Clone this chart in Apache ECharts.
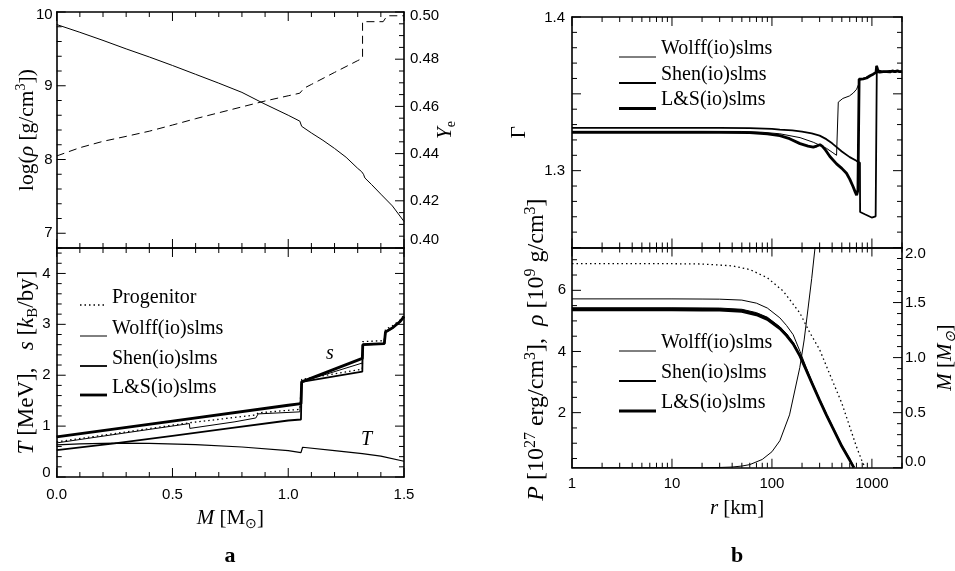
<!DOCTYPE html>
<html>
<head>
<meta charset="utf-8">
<title>Core profiles</title>
<script src="https://cdn.jsdelivr.net/npm/echarts@6.0.0/dist/echarts.min.js"></script>
<style>
  html, body { margin: 0; padding: 0; background: #fff; }
  #chart { width: 955px; height: 571px; }
</style>
</head>
<body>
<div id="chart"></div>
<script>
// ---------- panel a, upper: density (left axis) and electron fraction (right axis) vs. enclosed mass ----------
const massRho = [0, 0.1, 0.2, 0.3, 0.4, 0.5, 0.6, 0.7, 0.8, 0.878, 0.9, 1.0, 1.05, 1.058, 1.065, 1.1, 1.15, 1.2, 1.25, 1.3, 1.317, 1.325, 1.331, 1.36, 1.4, 1.45, 1.5];
const logRho  = [9.83, 9.725, 9.615, 9.50, 9.39, 9.275, 9.155, 9.035, 8.91, 8.785, 8.75, 8.60, 8.52, 8.45, 8.43, 8.36, 8.26, 8.15, 8.03, 7.88, 7.835, 7.80, 7.75, 7.66, 7.53, 7.37, 7.16];
const massYe  = [0, 0.1, 0.2, 0.3, 0.4, 0.5, 0.6, 0.7, 0.8, 0.9, 1.0, 1.05, 1.068, 1.1, 1.2, 1.3, 1.321, 1.321, 1.41, 1.427, 1.5];
const yeValues = [0.439, 0.4425, 0.4452, 0.4473, 0.4495, 0.4521, 0.4548, 0.4573, 0.4598, 0.4623, 0.4645, 0.4656, 0.4677, 0.4693, 0.4744, 0.4794, 0.4804, 0.4959, 0.4959, 0.4984, 0.4984];

// ---------- panel a, lower: entropy s and temperature T vs. enclosed mass ----------
const massSProg = [0, 0.573, 0.86, 0.87, 1.05, 1.055, 1.058, 1.32, 1.322, 1.415, 1.42, 1.45, 1.482, 1.5];
const sProg     = [0.69, 1.065, 1.22, 1.26, 1.33, 1.33, 1.92, 2.12, 2.66, 2.68, 2.90, 2.97, 3.08, 3.18];
const massSWolff = [0, 0.573, 0.575, 0.77, 0.86, 0.87, 1.05, 1.055, 1.058, 1.32, 1.322, 1.415, 1.42, 1.45, 1.482, 1.5];
const sWolff     = [0.67, 1.05, 0.955, 1.085, 1.16, 1.24, 1.28, 1.28, 1.87, 2.24, 2.60, 2.62, 2.85, 2.93, 3.05, 3.15];
const massSShen = [0, 0.25, 0.5, 0.75, 1.0, 1.055, 1.058, 1.32, 1.322, 1.415, 1.42, 1.45, 1.482, 1.5];
const sShen     = [0.53, 0.66, 0.81, 0.96, 1.11, 1.13, 1.87, 2.07, 2.60, 2.62, 2.85, 2.93, 3.05, 3.15];
const massSLS = [0, 0.5, 1.0, 1.055, 1.058, 1.2, 1.32, 1.322, 1.415, 1.42, 1.45, 1.482, 1.5];
const sLS     = [0.79, 1.10, 1.41, 1.44, 1.87, 2.12, 2.33, 2.60, 2.62, 2.85, 2.93, 3.05, 3.15];
const massT = [0, 0.1, 0.25, 0.4, 0.6, 0.8, 1.0, 1.055, 1.062, 1.2, 1.32, 1.4, 1.5];
const tempT = [0.63, 0.65, 0.665, 0.66, 0.635, 0.59, 0.52, 0.48, 0.585, 0.52, 0.46, 0.41, 0.31];

// ---------- panel b, upper: adiabatic index vs. radius ----------
const rGammaWolff = [1, 20, 50, 80, 120, 191, 259, 302, 352, 400, 443, 458, 461, 512, 595, 650, 703, 740, 759, 800, 850, 900, 960, 1030, 1100, 1120, 1160, 1250, 1400, 1600, 1800, 2000];
const gammaWolff  = [1.3256, 1.3256, 1.3255, 1.3250, 1.3240, 1.3215, 1.3185, 1.3165, 1.3145, 1.3120, 1.3100, 1.3092, 1.3446, 1.3470, 1.3486, 1.3505, 1.3530, 1.3565, 1.3590, 1.3598, 1.3604, 1.3610, 1.3619, 1.3628, 1.3640, 1.3670, 1.3648, 1.3645, 1.3643, 1.3648, 1.3644, 1.3645];
const rGammaShen = [1, 30, 60, 100, 120, 160, 200, 250, 300, 350, 400, 450, 500, 600, 700, 759, 762, 850, 995, 1090, 1120, 1120, 1160, 1199, 1250, 1300, 1400, 1500, 1600, 1700, 1800, 1900, 2000];
const gammaShen  = [1.3278, 1.3278, 1.3277, 1.3272, 1.3267, 1.3262, 1.3254, 1.3242, 1.3228, 1.3205, 1.3178, 1.3150, 1.3125, 1.3088, 1.3064, 1.3052, 1.2731, 1.2716, 1.2695, 1.2703, 1.2705, 1.3682, 1.3652, 1.3641, 1.3646, 1.3644, 1.3645, 1.3649, 1.3646, 1.3641, 1.3648, 1.3643, 1.3645];
const rGammaLS = [1, 30, 60, 90, 120, 150, 191, 230, 259, 280, 302, 320, 339, 380, 443, 500, 557, 600, 649, 680, 703, 725, 742, 745, 780, 820, 850, 884, 920, 960, 995, 1030, 1073, 1100, 1115, 1135, 1199, 1250, 1300, 1350, 1400, 1450, 1520, 1600, 1700, 1800, 1900, 2000];
const gammaLS  = [1.3249, 1.3249, 1.3247, 1.3240, 1.3228, 1.3208, 1.3176, 1.3160, 1.3153, 1.3160, 1.3169, 1.3158, 1.3139, 1.3092, 1.3044, 1.3015, 1.2983, 1.2945, 1.2895, 1.2862, 1.2841, 1.2874, 1.2880, 1.3595, 1.3590, 1.3598, 1.3606, 1.3603, 1.3612, 1.3618, 1.3621, 1.3628, 1.3634, 1.3640, 1.3682, 1.3645, 1.3641, 1.3646, 1.3644, 1.3650, 1.3645, 1.3648, 1.3643, 1.3649, 1.3645, 1.3650, 1.3644, 1.3646];

// ---------- panel b, lower: density / pressure (left axis) and enclosed mass (right axis) vs. radius ----------
const rProfile = [1, 10, 20, 30, 50, 70, 90, 120, 140, 163, 191, 220, 250, 300, 350, 400, 500, 600, 660];
const rhoLS    = [5.36, 5.36, 5.355, 5.35, 5.31, 5.20, 5.05, 4.75, 4.52, 4.25, 3.85, 3.40, 2.98, 2.40, 1.93, 1.54, 0.90, 0.45, 0.20];
const rhoShen  = [5.40, 5.40, 5.395, 5.39, 5.35, 5.24, 5.09, 4.78, 4.55, 4.27, 3.86, 3.41, 2.99, 2.41, 1.94, 1.55, 0.91, 0.46, 0.21];
const rhoWolff = [5.43, 5.43, 5.425, 5.42, 5.38, 5.27, 5.12, 4.81, 4.58, 4.29, 3.87, 3.42, 3.00, 2.42, 1.95, 1.56, 0.92, 0.47, 0.22];
const upperThin = [5.72, 5.72, 5.715, 5.71, 5.68, 5.58, 5.42, 5.10, 4.85, 4.55, 4.00, 3.48, 3.02, 2.42, 1.95, 1.56, 0.92, 0.47, 0.22];
const rDotted = [1, 10, 20, 40, 60, 90, 130, 190, 240, 300, 400, 500, 600, 700, 800, 860];
const dotted  = [6.87, 6.87, 6.86, 6.80, 6.68, 6.41, 5.97, 5.26, 4.61, 4.06, 3.07, 2.31, 1.54, 0.89, 0.40, 0.20];
const rEncMass = [1, 20, 30, 40, 50, 60, 80, 100, 120, 150, 190, 210, 230, 250, 270, 300];
const encMass  = [0, 0, 0.002, 0.006, 0.015, 0.028, 0.075, 0.145, 0.245, 0.48, 0.91, 1.16, 1.45, 1.72, 2.0, 2.45];

// ---------- tick labels ----------
const massTicks = [0, 0.5, 1.0, 1.5];
const logRhoTicks = [7, 8, 9, 10];
const yeTicks = [0.40, 0.42, 0.44, 0.46, 0.48, 0.50];
const tsTicks = [0, 1, 2, 3, 4];
const gammaTicks = [1.3, 1.4];
const prhoTicks = [2, 4, 6];
const encMassTicks = [0, 0.5, 1.0, 1.5, 2.0];
const radiusTicks = [1, 10, 100, 1000];

// ---------- legend entries ----------
const eosNames = ['Wolff(io)slms', 'Shen(io)slms', 'L&S(io)slms'];
const progenitorName = 'Progenitor';

const SANS = '"Liberation Sans", Arial, Helvetica, sans-serif';
const SERIF = '"Liberation Serif", "Times New Roman", serif';
const BLACK = '#000';
const W_THIN = 1, W_MED = 1.8, W_THICK = 2.8;
const EOS_WIDTH = [W_THIN, W_MED, W_THICK];
const DOTS = [1.5, 3];
const MAJOR = 9, MINOR = 5;

// plot frames: a-upper, a-lower, b-upper, b-lower
const FRAMES = [
  { left: 56.7, top: 12, width: 347.3, height: 236 },
  { left: 56.7, top: 248, width: 347.3, height: 229 },
  { left: 572, top: 17, width: 330, height: 230.5 },
  { left: 572, top: 247.5, width: 330, height: 220.2 }
];
// x extents of the frames (mass axis for a, radius axis for b)
const X_EXTENT = [
  { range: [0, 1.5], log: false }, { range: [0, 1.5], log: false },
  { range: [1, 2000], log: true }, { range: [1, 2000], log: true }
];

const zip = (xs, ys) => xs.map((x, i) => [x, ys[i]]);

// rich styles for tick labels (edge labels are pushed inward a little)
const tickRich = {};
[['dn', 1], ['up', -1]].forEach(([k, s]) => {
  [2, 4, 6, 8, 12, 16].forEach(p => {
    tickRich[k + p] = {
      fontFamily: SANS, fontSize: 15, color: BLACK,
      padding: s > 0 ? [p, 0, 0, 0] : [0, 0, p, 0]
    };
  });
});

function tickFormatter(ticks, digits, nudges) {
  return v => {
    const i = ticks.findIndex(t => Math.abs(t - v) <= 1e-6 * Math.max(1, Math.abs(t)));
    if (i < 0) return '';
    const txt = digits == null ? String(ticks[i]) : ticks[i].toFixed(digits);
    const n = nudges && nudges[String(ticks[i])];
    return n ? '{' + n + '|' + txt + '}' : txt;
  };
}

function titleStyle(size, pad) {
  const sub = Math.round(size * 0.65);
  return {
    fontFamily: SERIF, fontSize: size, color: BLACK, lineHeight: size + 4,
    padding: pad || 0,
    rich: {
      it:  { fontFamily: SERIF, fontSize: size, fontStyle: 'italic', color: BLACK, lineHeight: size + 4 },
      sup: { fontFamily: SERIF, fontSize: sub, color: BLACK, verticalAlign: 'top', lineHeight: sub - 3 },
      sub: { fontFamily: SERIF, fontSize: sub, color: BLACK, verticalAlign: 'bottom', lineHeight: sub + 1 },
      subit: { fontFamily: SERIF, fontSize: sub, fontStyle: 'italic', color: BLACK, verticalAlign: 'bottom', lineHeight: sub + 1 }
    }
  };
}

const frameLine = { show: true, onZero: false, lineStyle: { color: BLACK, width: 1.6 } };

function axisCommon(o) {
  return {
    gridIndex: o.grid, position: o.position,
    axisLine: frameLine,
    axisTick: { show: false }, minorTick: { show: false },
    splitLine: { show: false }, minorSplitLine: { show: false },
    axisLabel: o.fmt ? {
      show: true, color: BLACK, fontFamily: SANS, fontSize: 15, margin: o.margin || 6,
      formatter: o.fmt, rich: tickRich
    } : { show: false },
    name: o.name || '', nameLocation: 'middle', nameGap: o.nameGap || 20,
    nameRotate: o.nameRotate || 0, nameMoveOverlap: false,
    nameTextStyle: titleStyle(o.nameSize || 21, o.namePad),
    silent: true, z: 4
  };
}
function linAxis(o) {
  return Object.assign(axisCommon(o), {
    type: 'value', min: o.min, max: o.max, minInterval: o.step, maxInterval: o.step, splitNumber: 5
  });
}
function logAxis(o) {
  return Object.assign(axisCommon(o), { type: 'log', logBase: 10, min: 1, max: 2000 });
}

function line(name, xs, ys, xi, yi, width, dash) {
  return {
    type: 'line', name: name, xAxisIndex: xi, yAxisIndex: yi,
    data: zip(xs, ys), symbol: 'none', showSymbol: false, silent: true, clip: true,
    lineStyle: { color: BLACK, width: width, type: dash || 'solid' },
    itemStyle: { color: BLACK }, z: 3
  };
}

// ---------- tick positions ----------
// evenly spaced ticks: [value, isMajor]
function stepTicks(lo, hi, minorStep, majorEvery) {
  const out = [];
  const k0 = Math.ceil(lo / minorStep - 1e-9), k1 = Math.floor(hi / minorStep + 1e-9);
  for (let k = k0; k <= k1; k++) out.push([+(k * minorStep).toFixed(10), k % majorEvery === 0]);
  return out;
}
// decades plus 2..9 minor ticks
function logTicks(lo, hi) {
  const out = [];
  for (let d = 1; d <= 1000; d *= 10) {
    for (let k = 1; k <= 9; k++) {
      const v = k * d;
      if (v >= lo && v <= hi) out.push([v, k === 1]);
    }
  }
  return out;
}
const massTickMarks = stepTicks(0, 1.5, 0.1, 5);
const tsTickMarks = stepTicks(0, 4.5, 0.2, 5);
const gammaTickMarks = stepTicks(1.25, 1.40, 0.01, 5);
const radiusTickMarks = logTicks(1, 2000);

// ticks along the bottom/top edges (placed through the x axes)
const X_TICK_SETS = [
  { frame: 0, xi: 0, ticks: massTickMarks },
  { frame: 1, xi: 2, ticks: massTickMarks },
  { frame: 2, xi: 4, ticks: radiusTickMarks },
  { frame: 3, xi: 6, ticks: radiusTickMarks }
];
// ticks along the left/right edges, drawn as short segments on the y scales
const Y_TICK_SETS = [
  { frame: 0, edge: 'left', xi: 0, yi: 0, ticks: stepTicks(6.8, 10, 0.2, 5) },
  { frame: 0, edge: 'right', xi: 0, yi: 1, ticks: stepTicks(0.40, 0.50, 0.005, 4) },
  { frame: 1, edge: 'left', xi: 2, yi: 2, ticks: tsTickMarks },
  { frame: 1, edge: 'right', xi: 2, yi: 3, ticks: tsTickMarks },
  { frame: 2, edge: 'left', xi: 4, yi: 4, ticks: gammaTickMarks },
  { frame: 2, edge: 'right', xi: 4, yi: 5, ticks: gammaTickMarks },
  { frame: 3, edge: 'left', xi: 6, yi: 6, ticks: stepTicks(0.2, 7.4, 0.5, 4) },
  { frame: 3, edge: 'right', xi: 6, yi: 7, ticks: stepTicks(0, 2, 0.1, 5) }
];

// x value lying a given fraction of the frame width from its left edge
function xAtFraction(frame, frac) {
  const e = X_EXTENT[frame];
  if (e.log) {
    const l0 = Math.log10(e.range[0]), l1 = Math.log10(e.range[1]);
    return Math.pow(10, l0 + frac * (l1 - l0));
  }
  return e.range[0] + frac * (e.range[1] - e.range[0]);
}
function yTickSeries() {
  const out = [];
  Y_TICK_SETS.forEach(set => {
    const f = FRAMES[set.frame];
    set.ticks.forEach(t => {
      const fr = (t[1] ? MAJOR : MINOR) / f.width;
      const a = set.edge === 'left' ? 0 : 1;
      const b = set.edge === 'left' ? fr : 1 - fr;
      out.push({
        type: 'line', xAxisIndex: set.xi, yAxisIndex: set.yi, silent: true, clip: false,
        data: [[xAtFraction(set.frame, a), t[0]], [xAtFraction(set.frame, b), t[0]]],
        symbol: 'none', showSymbol: false, z: 5,
        lineStyle: { color: BLACK, width: 1 }
      });
    });
  });
  return out;
}

const chart = echarts.init(document.getElementById('chart'), null, { renderer: 'canvas' });

const option = {
  animation: false,
  backgroundColor: '#fff',
  textStyle: { fontFamily: SANS },
  grid: FRAMES.map(f => Object.assign({ containLabel: false, outerBoundsMode: 'none' }, f)),
  xAxis: [
    linAxis({ grid: 0, position: 'bottom', min: 0, max: 1.5, step: 0.5 }),
    linAxis({ grid: 0, position: 'top', min: 0, max: 1.5, step: 0.5 }),
    linAxis({ grid: 1, position: 'bottom', min: 0, max: 1.5, step: 0.5, margin: 10,
      fmt: tickFormatter(massTicks, 1),
      name: '{it|M} [M{sub|⊙}]', nameGap: 29 }),
    linAxis({ grid: 1, position: 'top', min: 0, max: 1.5, step: 0.5 }),
    logAxis({ grid: 2, position: 'bottom' }),
    logAxis({ grid: 2, position: 'top' }),
    logAxis({ grid: 3, position: 'bottom', margin: 9, fmt: tickFormatter(radiusTicks, null),
      name: '{it|r} [km]', nameGap: 28 }),
    logAxis({ grid: 3, position: 'top' })
  ],
  yAxis: [
    linAxis({ grid: 0, position: 'left', min: 6.8, max: 10, step: 1, margin: 4,
      fmt: tickFormatter(logRhoTicks, null, { '10': 'dn6' }),
      name: 'log({it|ρ} [g/cm{sup|3}])', nameGap: 17, nameRotate: 90, nameSize: 21.5 }),
    linAxis({ grid: 0, position: 'right', min: 0.40, max: 0.50, step: 0.02, margin: 6,
      fmt: tickFormatter(yeTicks, 2, { '0.5': 'dn8', '0.4': 'up16' }),
      name: '{it|Y}{sub|e}', nameGap: 29, nameRotate: 90 }),
    linAxis({ grid: 1, position: 'left', min: 0, max: 4.5, step: 1, margin: 6,
      fmt: tickFormatter(tsTicks, null, { '0': 'up8' }),
      name: '{it|T} [MeV],   {it|s} [{it|k}{sub|B}/by]', nameGap: 16, nameRotate: 90, nameSize: 23 }),
    linAxis({ grid: 1, position: 'right', min: 0, max: 4.5, step: 1 }),
    linAxis({ grid: 2, position: 'left', min: 1.25, max: 1.40, step: 0.05, margin: 7,
      fmt: tickFormatter(gammaTicks, 1, { '1.4': 'dn2' }),
      name: 'Γ', nameGap: 40, nameRotate: 90 }),
    linAxis({ grid: 2, position: 'right', min: 1.25, max: 1.40, step: 0.05 }),
    linAxis({ grid: 3, position: 'left', min: 0.2, max: 7.4, step: 2, margin: 6,
      fmt: tickFormatter(prhoTicks, null),
      name: '{it|P} [10{sup|27} erg/cm{sup|3}],  {it|ρ} [10{sup|9} g/cm{sup|3}]', nameGap: 21, nameRotate: 90,
      nameSize: 24, namePad: [0, 0, 0, 16] }),
    linAxis({ grid: 3, position: 'right', min: 0, max: 2, step: 0.5, margin: 3,
      fmt: tickFormatter(encMassTicks, 1, { '0': 'up12', '2': 'dn12' }),
      name: '{it|M} [{it|M}{subit|⊙}]', nameGap: 31, nameRotate: 90 })
  ],
  series: [
    // panel a, upper
    line('log rho', massRho, logRho, 0, 0, 1),
    line('Ye', massYe, yeValues, 0, 1, 1, [8, 5]),
    // panel a, lower
    line(progenitorName, massSProg, sProg, 2, 2, 1.3, DOTS),
    line(eosNames[0], massSWolff, sWolff, 2, 2, W_THIN),
    line(eosNames[1], massSShen, sShen, 2, 2, W_MED),
    line(eosNames[2], massSLS, sLS, 2, 2, W_THICK),
    line('T', massT, tempT, 2, 2, 1.2),
    // panel b, upper
    line(eosNames[0], rGammaWolff, gammaWolff, 4, 4, W_THIN),
    line(eosNames[1], rGammaShen, gammaShen, 4, 4, W_MED),
    line(eosNames[2], rGammaLS, gammaLS, 4, 4, W_THICK),
    // panel b, lower
    line('upper profile', rProfile, upperThin, 6, 6, W_THIN),
    line(eosNames[0], rProfile, rhoWolff, 6, 6, W_THIN),
    line(eosNames[1], rProfile, rhoShen, 6, 6, W_MED),
    line(eosNames[2], rProfile, rhoLS, 6, 6, W_THICK),
    line('dotted profile', rDotted, dotted, 6, 6, 1.3, DOTS),
    line('enclosed mass', rEncMass, encMass, 6, 7, W_THIN)
  ].concat(yTickSeries())
};
chart.setOption(option);

// ---------- ticks on the bottom/top edges; pixel x comes from the axis scale ----------
function xTickElements() {
  const els = [];
  const bar = (x, y, w, h) => els.push({
    type: 'rect', silent: true, z: 10, shape: { x: x, y: y, width: w, height: h }, style: { fill: BLACK }
  });
  X_TICK_SETS.forEach(set => {
    const f = FRAMES[set.frame];
    const yt = f.top, yb = f.top + f.height;
    set.ticks.forEach(t => {
      const len = t[1] ? MAJOR : MINOR;
      const p = chart.convertToPixel({ xAxisIndex: set.xi }, t[0]);
      if (!isFinite(p)) return;
      bar(p - 0.5, yb - len, 1, len);
      bar(p - 0.5, yt, 1, len);
    });
  });
  return els;
}

// ---------- legends, curve labels and panel letters ----------
const legendFont = '20px ' + SERIF;
function legendBlock(x0, sampleW, lineYs, textDy, entries) {
  const els = [];
  entries.forEach((e, i) => {
    const y = lineYs[i];
    els.push({ type: 'line', shape: { x1: x0, y1: y, x2: x0 + sampleW, y2: y },
      style: { stroke: BLACK, lineWidth: e.width, lineDash: e.dash || null } });
    els.push({ type: 'text', x: x0 + sampleW + 5, y: y - textDy,
      style: { text: e.name, font: legendFont, fill: BLACK, align: 'left', verticalAlign: 'middle' } });
  });
  return els;
}
const eosEntries = eosNames.map((n, i) => ({ name: n, width: EOS_WIDTH[i] }));

const sPos = chart.convertToPixel({ xAxisIndex: 2, yAxisIndex: 2 }, [1.18, 2.43]);
const tPos = chart.convertToPixel({ xAxisIndex: 2, yAxisIndex: 2 }, [1.338, 0.73]);
const italicFont = 'italic 20px ' + SERIF;

chart.setOption({
  graphic: [].concat(
    xTickElements(),
    legendBlock(80, 27, [305, 336, 366, 395], 7,
      [{ name: progenitorName, width: 1.3, dash: DOTS }].concat(eosEntries)),
    legendBlock(619, 37, [57, 83, 108.5], 8.5, eosEntries),
    legendBlock(619, 37, [351, 381, 411], 8.5, eosEntries),
    [
      { type: 'text', x: sPos[0], y: sPos[1], style: { text: 's', font: italicFont, fill: BLACK, align: 'center', verticalAlign: 'middle' } },
      { type: 'text', x: tPos[0], y: tPos[1], style: { text: 'T', font: italicFont, fill: BLACK, align: 'center', verticalAlign: 'middle' } },
      { type: 'text', x: 230, y: 556, style: { text: 'a', font: 'bold 22px ' + SERIF, fill: BLACK, align: 'center', verticalAlign: 'middle' } },
      { type: 'text', x: 737, y: 556, style: { text: 'b', font: 'bold 22px ' + SERIF, fill: BLACK, align: 'center', verticalAlign: 'middle' } }
    ]
  )
});
</script>
</body>
</html>
